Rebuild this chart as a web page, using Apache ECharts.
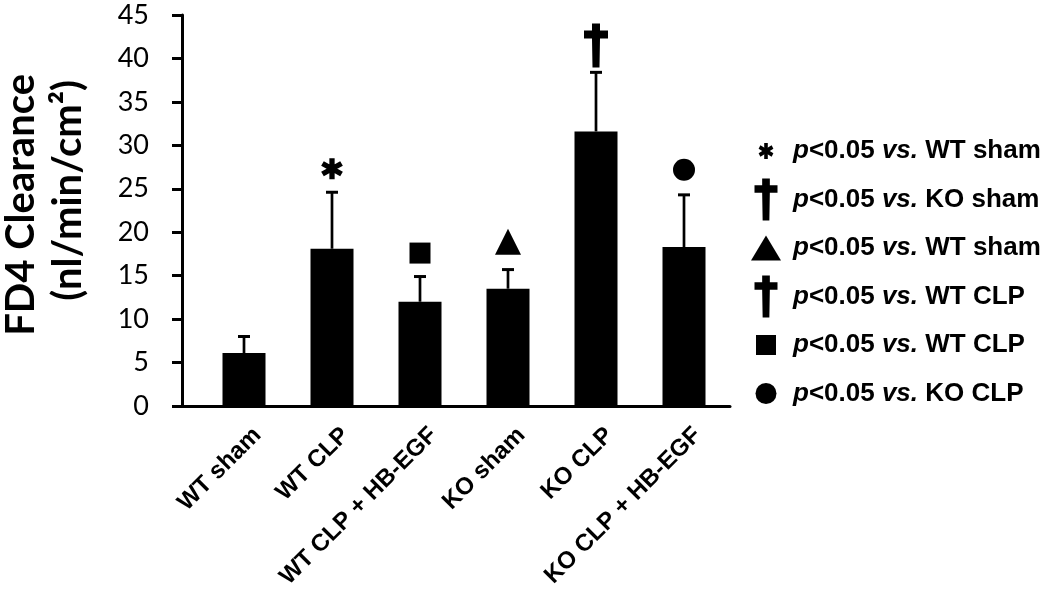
<!DOCTYPE html>
<html><head><meta charset="utf-8">
<script src="https://cdn.jsdelivr.net/npm/echarts@6/dist/echarts.min.js"></script>
<style>html,body{margin:0;padding:0;background:#fff}#c{width:1050px;height:594px}</style>
</head><body><div id="c"></div>
<script>
// ---- data ----
const categories = ['WT sham', 'WT CLP', 'WT CLP + HB-EGF', 'KO sham', 'KO CLP', 'KO CLP + HB-EGF'];
const means = [6.1, 18.1, 12.0, 13.5, 31.6, 18.3];
const errUpper = [1.9, 6.5, 2.9, 2.2, 6.8, 6.0];
const yMin = 0, yMax = 45, yStep = 5;
const markerCats = [1, 2, 3, 4, 5];
const markerValues = [27.3, 17.6, 18.9, 41.5, 27.2];
const markerKinds = ['asterisk', 'square', 'triangle', 'dagger', 'circle'];
const legendKinds = ['asterisk', 'dagger', 'triangle', 'dagger', 'square', 'circle'];
const legendVs = ['WT sham', 'KO sham', 'WT sham', 'WT CLP', 'WT CLP', 'KO CLP'];

// ---- symbol shapes (polygons in a unit box 0..1) ----
function asteriskPolys() {
  const L = 0.5, w = 0.12, c = 0.5, out = [];
  [90, 30, 150].forEach(a => {
    const t = a * Math.PI / 180;
    const dx = Math.cos(t), dy = Math.sin(t), nx = -dy, ny = dx;
    out.push([[L, w], [L, -w], [-L, -w], [-L, w]].map(([s, q]) =>
      [c + s * dx + q * nx, c + s * dy + q * ny]));
  });
  return out;
}
const polys = {
  asterisk: asteriskPolys(),
  dagger: [[[8,0],[16,0],[16,7],[24,7],[24,15],[16,15],[15.5,44],[8.5,44],[8,15],[0,15],[0,7],[8,7]].map(([x, y]) => [x / 24, y / 44])],
  triangle: [[[0.5, 0], [1, 1], [0, 1]]],
  square: [[[0, 0], [1, 0], [1, 1], [0, 1]]]
};
function pathOf(kind) {
  if (kind === 'circle') return 'path://M50,0 A50,50 0 1,1 50,100 A50,50 0 1,1 50,0 Z';
  return 'path://M0,0 M100,100 ' + polys[kind].map(p =>
    'M' + p.map(([x, y]) => (x * 100).toFixed(2) + ',' + (y * 100).toFixed(2)).join(' L') + ' Z').join(' ');
}
function legendSymbol(kind, cx, cy, w, h) {
  if (kind === 'circle') return { type: 'circle', shape: { cx: cx, cy: cy, r: w / 2 }, style: { fill: '#000' } };
  return { type: 'group', children: polys[kind].map(p => ({
    type: 'polygon',
    shape: { points: p.map(([x, y]) => [cx - w / 2 + x * w, cy - h / 2 + y * h]) },
    style: { fill: '#000' }
  })) };
}
const markerSize = { asterisk: [22, 21], square: [21, 21], triangle: [26, 26], dagger: [24, 44], circle: [22, 22] };
const legendSize = { asterisk: [15, 16], square: [20, 20], triangle: [30, 25], dagger: [23, 42], circle: [21, 21] };

const chart = echarts.init(document.getElementById('c'), null, { renderer: 'canvas' });

const legendTop = 151, legendStep = 48.5;
const graphics = [];
legendKinds.forEach((k, i) => {
  const cy = legendTop + i * legendStep;
  const [w, h] = legendSize[k];
  graphics.push(legendSymbol(k, 766, cy, w, h));
  graphics.push({
    type: 'text', x: 793, y: cy,
    style: {
      text: '{i|p}{n|<0.05 }{i|vs.}{n| ' + legendVs[i] + '}',
      verticalAlign: 'middle',
      rich: {
        i: { fontFamily: 'Liberation Sans', fontSize: 26, fontWeight: 'bold', fontStyle: 'italic', fill: '#000' },
        n: { fontFamily: 'Liberation Sans', fontSize: 26, fontWeight: 'bold', fill: '#000' }
      }
    }
  });
});
// y-axis title (two lines)
graphics.push({
  type: 'text', x: 21, y: 74, rotation: Math.PI / 2,
  style: { text: 'FD4 Clearance', align: 'right', verticalAlign: 'middle',
    fontFamily: 'Lato', fontWeight: 'bold', fontSize: 40, fill: '#000' }
});
graphics.push({
  type: 'text', x: 68, y: 80, rotation: Math.PI / 2,
  style: { text: '(nl/min/cm²)', align: 'right', verticalAlign: 'middle',
    fontFamily: 'Lato', fontWeight: 'bold', fontSize: 40, fill: '#000' }
});

const option = {
  backgroundColor: '#fff',
  animation: false,
  grid: [
    { left: 182, right: 320, top: 15, bottom: 188, outerBoundsMode: 'none', containLabel: false },
    { left: 200, right: 322, top: 15, bottom: 188, outerBoundsMode: 'none', containLabel: false }
  ],
  xAxis: [
    { type: 'value', gridIndex: 0, min: 0, max: 1,
      axisLine: { show: true, lineStyle: { color: '#000', width: 3 } },
      axisTick: { show: false }, axisLabel: { show: false }, splitLine: { show: false } },
    { type: 'category', gridIndex: 1, data: categories,
      axisLine: { show: false }, axisTick: { show: false },
      axisLabel: { rotate: 45, margin: 12, interval: 0, color: '#000', lineHeight: 38,
        formatter: v => '\n' + v,
        fontFamily: 'Liberation Sans', fontWeight: 'bold', fontSize: 24 } }
  ],
  yAxis: [
    { type: 'value', gridIndex: 0, min: yMin, max: yMax, interval: yStep,
      axisLine: { show: true, lineStyle: { color: '#000', width: 3 } },
      axisTick: { show: true, inside: false, length: 10, lineStyle: { color: '#000', width: 3 } },
      axisLabel: { margin: 33, color: '#000', fontFamily: 'Lato', fontSize: 27 },
      splitLine: { show: false } },
    { type: 'value', gridIndex: 1, min: yMin, max: yMax, interval: yStep, show: false }
  ],
  series: [
    { type: 'bar', xAxisIndex: 1, yAxisIndex: 1, data: means, barWidth: 43,
      itemStyle: { color: '#000' }, z: 2 },
    { type: 'custom', xAxisIndex: 1, yAxisIndex: 1, z: 3,
      data: means.map((m, i) => [i, m, m + errUpper[i]]),
      renderItem: function (params, api) {
        const base = api.coord([api.value(0), api.value(1)]);
        const top = api.coord([api.value(0), api.value(2)]);
        return { type: 'group', children: [
          { type: 'line', shape: { x1: base[0], y1: base[1], x2: top[0], y2: top[1] },
            style: { stroke: '#000', lineWidth: 2.7 } },
          { type: 'line', shape: { x1: top[0] - 6, y1: top[1], x2: top[0] + 6, y2: top[1] },
            style: { stroke: '#000', lineWidth: 3 } }
        ] };
      } },
    { type: 'scatter', xAxisIndex: 1, yAxisIndex: 1, z: 4,
      data: markerCats.map((c, i) => ({
        value: [c, markerValues[i]],
        symbol: pathOf(markerKinds[i]),
        symbolSize: markerSize[markerKinds[i]]
      })),
      itemStyle: { color: '#000', opacity: 1 } }
  ],
  graphic: graphics
};
chart.setOption(option);
</script>
</body></html>
